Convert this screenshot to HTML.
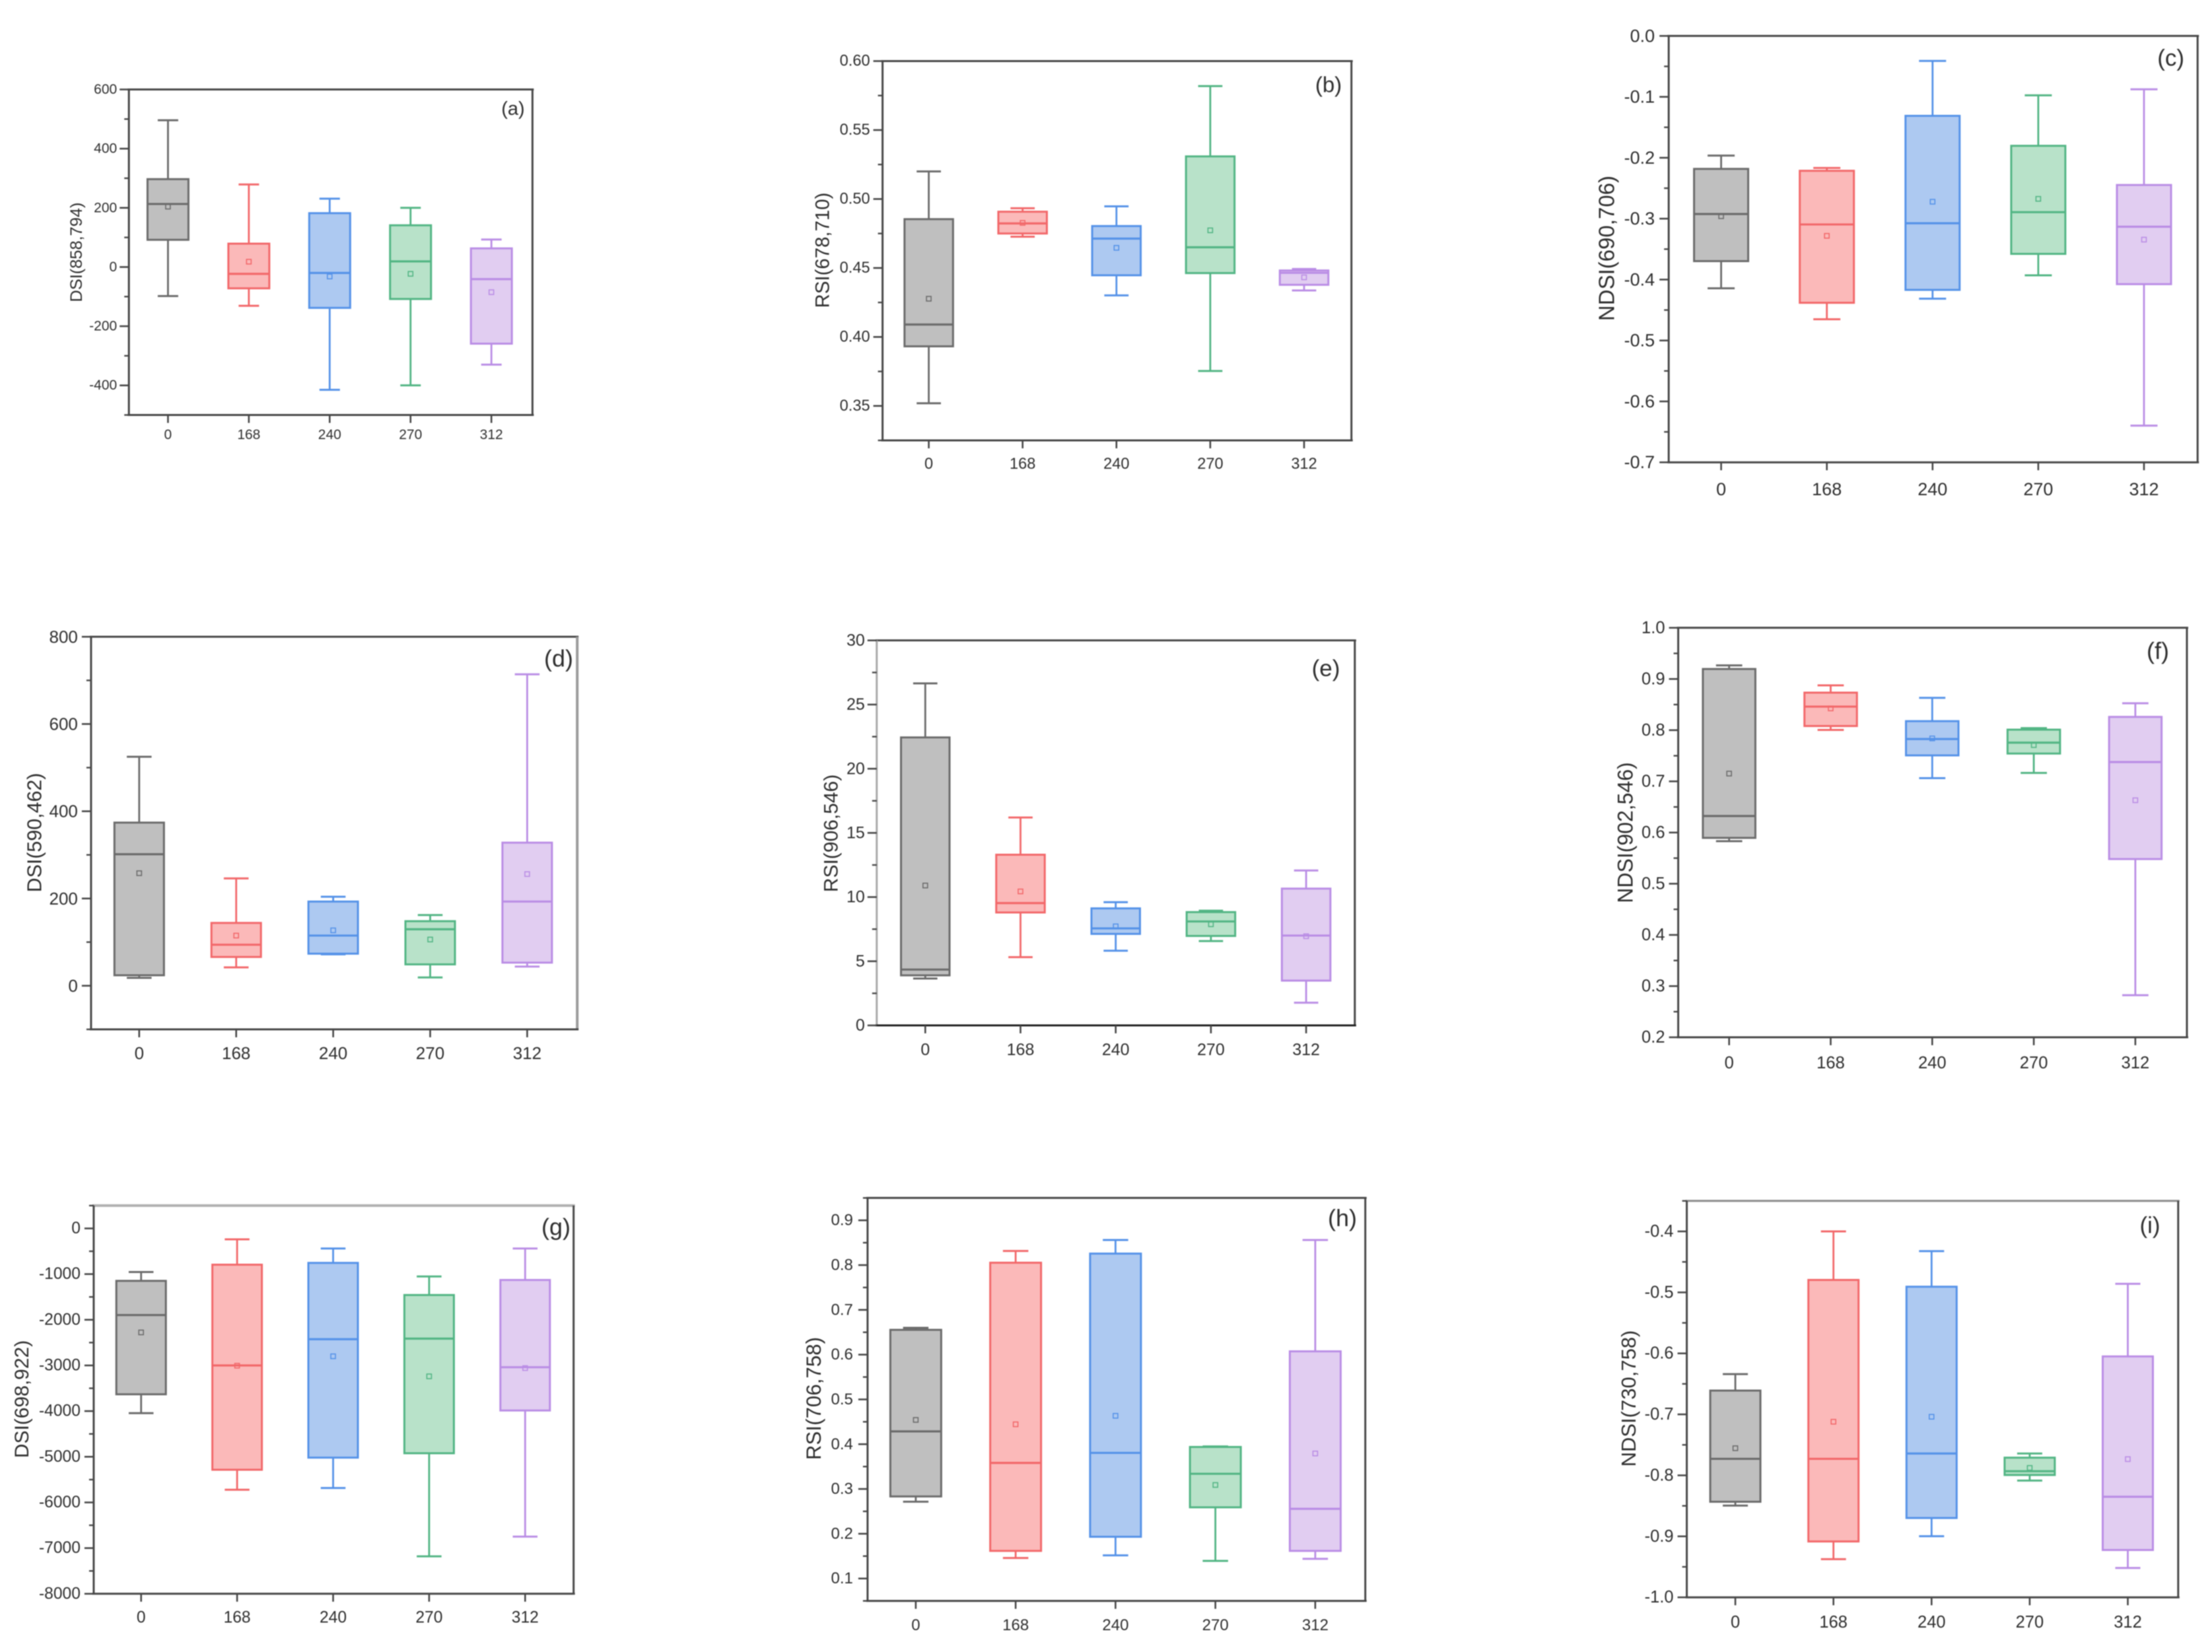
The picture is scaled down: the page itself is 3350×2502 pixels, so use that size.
<!DOCTYPE html>
<html lang="en">
<head>
<meta charset="utf-8">
<title>Box plots of spectral indices</title>
<style>
  html, body { margin: 0; padding: 0; background: #fff; }
  #chart-grid { display: block; width: 3350px; height: 2502px; filter: blur(0.8px); }
  text { font-family: "Liberation Sans", sans-serif; fill: #2e2e2e; }
</style>
</head>
<body>
<svg id="chart-grid" xmlns="http://www.w3.org/2000/svg" width="3350" height="2502" viewBox="0 0 3350 2502"></svg>
<script>
// Shared categories
const categories = ['0', '168', '240', '270', '312'];

// (a) DSI(858,794)
const aHigh = [496, 279, 231, 200, 93];
const aQ3 = [297, 79, 182, 141, 63];
const aMedian = [213, -23, -20, 19, -41];
const aMean = [204, 18, -32, -23, -85];
const aQ1 = [92, -72, -138, -108, -259];
const aLow = [-98, -131, -415, -400, -330];
const aTicks = [600, 400, 200, 0, -200, -400];
const aTickLabels = ['600', '400', '200', '0', '-200', '-400'];
const aMinorTicks = [500, 300, 100, -100, -300, -500];
const aDomain = [-500, 600];

// (b) RSI(678,710)
const bHigh = [0.52, 0.4933, 0.4947, 0.5819, 0.4493];
const bQ3 = [0.4854, 0.4908, 0.4804, 0.5309, 0.4482];
const bMedian = [0.409, 0.4823, 0.4713, 0.465, 0.4465];
const bMean = [0.4277, 0.4827, 0.4646, 0.4773, 0.4432];
const bQ1 = [0.3932, 0.475, 0.4447, 0.4463, 0.4378];
const bLow = [0.3519, 0.4727, 0.4301, 0.3753, 0.4337];
const bTicks = [0.6, 0.55, 0.5, 0.45, 0.4, 0.35];
const bTickLabels = ['0.60', '0.55', '0.50', '0.45', '0.40', '0.35'];
const bMinorTicks = [0.575, 0.525, 0.475, 0.425, 0.375, 0.325];
const bDomain = [0.325, 0.6];

// (c) NDSI(690,706)
const cHigh = [-0.1965, -0.2167, -0.041, -0.0975, -0.0876];
const cQ3 = [-0.2183, -0.2214, -0.1312, -0.1804, -0.2447];
const cMedian = [-0.2924, -0.3095, -0.3075, -0.2893, -0.3132];
const cMean = [-0.296, -0.3282, -0.2722, -0.2675, -0.3344];
const cQ1 = [-0.3697, -0.4381, -0.4169, -0.3578, -0.4075];
const cLow = [-0.4143, -0.4651, -0.4314, -0.393, -0.6398];
const cTicks = [0, -0.1, -0.2, -0.3, -0.4, -0.5, -0.6, -0.7];
const cTickLabels = ['0.0', '-0.1', '-0.2', '-0.3', '-0.4', '-0.5', '-0.6', '-0.7'];
const cMinorTicks = [-0.05, -0.15, -0.25, -0.35, -0.45, -0.55, -0.65];
const cDomain = [-0.7, 0];

// (d) DSI(590,462)
const dHigh = [525, 246, 204, 162, 714];
const dQ3 = [374, 144, 193, 148, 328];
const dMedian = [301.5, 94, 115, 129.5, 193];
const dMean = [258, 115, 127, 106, 256];
const dQ1 = [24, 66, 73.5, 49, 53];
const dLow = [18, 42, 72, 19, 44];
const dTicks = [800, 600, 400, 200, 0];
const dTickLabels = ['800', '600', '400', '200', '0'];
const dMinorTicks = [700, 500, 300, 100, -100];
const dDomain = [-100, 800];

// (e) RSI(906,546)
const eHigh = [26.65, 16.2, 9.6, 8.94, 12.07];
const eQ3 = [22.44, 13.3, 9.12, 8.83, 10.66];
const eMedian = [4.35, 9.53, 7.56, 8.1, 7];
const eMean = [10.9, 10.44, 7.72, 7.88, 6.95];
const eQ1 = [3.9, 8.8, 7.13, 6.97, 3.49];
const eLow = [3.65, 5.32, 5.82, 6.57, 1.77];
const eTicks = [30, 25, 20, 15, 10, 5, 0];
const eTickLabels = ['30', '25', '20', '15', '10', '5', '0'];
const eMinorTicks = [27.5, 22.5, 17.5, 12.5, 7.5, 2.5];
const eDomain = [0, 30];

// (f) NDSI(902,546)
const fHigh = [0.9266, 0.8875, 0.8632, 0.804, 0.8526];
const fQ3 = [0.9195, 0.8733, 0.8176, 0.801, 0.8259];
const fMedian = [0.6323, 0.846, 0.7827, 0.7756, 0.7377];
const fMean = [0.7152, 0.8425, 0.7839, 0.7708, 0.6631];
const fQ1 = [0.5896, 0.8081, 0.7507, 0.7543, 0.5482];
const fLow = [0.5831, 0.8004, 0.7063, 0.7164, 0.2823];
const fTicks = [1, 0.9, 0.8, 0.7, 0.6, 0.5, 0.4, 0.3, 0.2];
const fTickLabels = ['1.0', '0.9', '0.8', '0.7', '0.6', '0.5', '0.4', '0.3', '0.2'];
const fMinorTicks = [0.95, 0.85, 0.75, 0.65, 0.55, 0.45, 0.35, 0.25];
const fDomain = [0.2, 1];

// (g) DSI(698,922)
const gHigh = [-955, -239, -439, -1052, -439];
const gQ3 = [-1148, -794, -755, -1458, -1129];
const gMedian = [-1897, -3000, -2426, -2413, -3039];
const gMean = [-2277, -3006, -2800, -3239, -3058];
const gQ1 = [-3632, -5284, -5019, -4923, -3987];
const gLow = [-4045, -5723, -5684, -7181, -6748];
const gTicks = [0, -1000, -2000, -3000, -4000, -5000, -6000, -7000, -8000];
const gTickLabels = ['0', '-1000', '-2000', '-3000', '-4000', '-5000', '-6000', '-7000', '-8000'];
const gMinorTicks = [500, -500, -1500, -2500, -3500, -4500, -5500, -6500, -7500];
const gDomain = [-8000, 500];

// (h) RSI(706,758)
const hHigh = [0.66, 0.8316, 0.856, 0.395, 0.856];
const hQ3 = [0.6554, 0.8053, 0.8257, 0.3938, 0.6074];
const hMedian = [0.4286, 0.3582, 0.3806, 0.3339, 0.2557];
const hMean = [0.4542, 0.4444, 0.4634, 0.3089, 0.3793];
const hQ1 = [0.2833, 0.1617, 0.1932, 0.259, 0.1617];
const hLow = [0.2715, 0.1459, 0.1518, 0.1393, 0.1439];
const hTicks = [0.9, 0.8, 0.7, 0.6, 0.5, 0.4, 0.3, 0.2, 0.1];
const hTickLabels = ['0.9', '0.8', '0.7', '0.6', '0.5', '0.4', '0.3', '0.2', '0.1'];
const hMinorTicks = [0.95, 0.85, 0.75, 0.65, 0.55, 0.45, 0.35, 0.25, 0.15, 0.05];
const hDomain = [0.05, 0.95];

// (i) NDSI(730,758)
const iHigh = [-0.634, -0.4, -0.4323, -0.7642, -0.4859];
const iQ3 = [-0.661, -0.4796, -0.4907, -0.771, -0.605];
const iMedian = [-0.7729, -0.7729, -0.7642, -0.7932, -0.8351];
const iMean = [-0.7555, -0.7121, -0.7039, -0.7878, -0.7734];
const iQ1 = [-0.8433, -0.9084, -0.8699, -0.7994, -0.9224];
const iLow = [-0.8496, -0.9374, -0.8998, -0.8086, -0.9519];
const iTicks = [-0.4, -0.5, -0.6, -0.7, -0.8, -0.9, -1];
const iTickLabels = ['-0.4', '-0.5', '-0.6', '-0.7', '-0.8', '-0.9', '-1.0'];
const iMinorTicks = [-0.35, -0.45, -0.55, -0.65, -0.75, -0.85, -0.95];
const iDomain = [-1, -0.35];

// Series appearance, one per category
const fills = ['#bfbfbf', '#fbb9b9', '#adc9f1', '#b8e2c9', '#e1cdf1'];
const strokes = ['#6b6b6b', '#f2686a', '#5592e8', '#52b584', '#ba8de5'];

// Page layout for each panel
const panels = [
  { id: 'a', title: 'DSI(858,794)', high: aHigh, q3: aQ3, median: aMedian, mean: aMean, q1: aQ1, low: aLow, ticks: aTicks, tickLabels: aTickLabels, minor: aMinorTicks, domain: aDomain,
    left: 195.2, right: 806.4, top: 135.5, bottom: 628.5, x0: 254.4, step: 122.45, boxW: 62, tickFont: 21, labelGap: 18, xLabelDy: 30,
    titleX: 116, titleY: 382, titleFont: 25.4, tagX: 777, tagY: 165, tagFont: 29 },
  { id: 'b', title: 'RSI(678,710)', high: bHigh, q3: bQ3, median: bMedian, mean: bMean, q1: bQ1, low: bLow, ticks: bTicks, tickLabels: bTickLabels, minor: bMinorTicks, domain: bDomain,
    left: 1336.6, right: 2046.7, top: 92.5, bottom: 667, x0: 1406.6, step: 142.1, boxW: 73.5, tickFont: 23.6, labelGap: 19, xLabelDy: 36,
    titleX: 1246, titleY: 379, titleFont: 29.4, tagX: 2012, tagY: 128, tagFont: 33 },
  { id: 'c', title: 'NDSI(690,706)', high: cHigh, q3: cQ3, median: cMedian, mean: cMean, q1: cQ1, low: cLow, ticks: cTicks, tickLabels: cTickLabels, minor: cMinorTicks, domain: cDomain,
    left: 2527.2, right: 3328.2, top: 54.4, bottom: 700.2, x0: 2606.6, step: 160.1, boxW: 82, tickFont: 27, labelGap: 21, xLabelDy: 41,
    titleX: 2433, titleY: 376, titleFont: 33, tagX: 3287.6, tagY: 88, tagFont: 35 },
  { id: 'd', title: 'DSI(590,462)', high: dHigh, q3: dQ3, median: dMedian, mean: dMean, q1: dQ1, low: dLow, ticks: dTicks, tickLabels: dTickLabels, minor: dMinorTicks, domain: dDomain,
    left: 137.9, right: 874.2, top: 964.4, bottom: 1559, x0: 210.8, step: 146.9, boxW: 75, tickFont: 26, labelGap: 20, xLabelDy: 36,
    titleX: 52.6, titleY: 1261, titleFont: 30.4, tagX: 846, tagY: 997, tagFont: 36, rightColor: '#9a9a9a', rightWidth: 4 },
  { id: 'e', title: 'RSI(906,546)', high: eHigh, q3: eQ3, median: eMedian, mean: eMean, q1: eQ1, low: eLow, ticks: eTicks, tickLabels: eTickLabels, minor: eMinorTicks, domain: eDomain,
    left: 1327.8, right: 2051.8, top: 969.9, bottom: 1553, x0: 1401.3, step: 144.2, boxW: 73.5, tickFont: 25, labelGap: 18, xLabelDy: 37,
    titleX: 1259, titleY: 1262, titleFont: 30, tagX: 2008, tagY: 1012.6, tagFont: 35, leftColor: '#a8a8a8', bottomColor: '#222' },
  { id: 'f', title: 'NDSI(902,546)', high: fHigh, q3: fQ3, median: fMedian, mean: fMean, q1: fQ1, low: fLow, ticks: fTicks, tickLabels: fTickLabels, minor: fMinorTicks, domain: fDomain,
    left: 2541.6, right: 3312, top: 950.8, bottom: 1571, x0: 2618.7, step: 153.8, boxW: 79.5, tickFont: 25.6, labelGap: 20, xLabelDy: 39,
    titleX: 2461.5, titleY: 1261, titleFont: 32, tagX: 3268, tagY: 985.6, tagFont: 36 },
  { id: 'g', title: 'DSI(698,922)', high: gHigh, q3: gQ3, median: gMedian, mean: gMean, q1: gQ1, low: gLow, ticks: gTicks, tickLabels: gTickLabels, minor: gMinorTicks, domain: gDomain,
    left: 141.9, right: 868.7, top: 1825.9, bottom: 2413.8, x0: 213.7, step: 145.4, boxW: 75, tickFont: 24.6, labelGap: 20, xLabelDy: 36,
    titleX: 33.6, titleY: 2119, titleFont: 30, tagX: 842, tagY: 1858, tagFont: 36, topColor: '#b0b0b0', topWidth: 4 },
  { id: 'h', title: 'RSI(706,758)', high: hHigh, q3: hQ3, median: hMedian, mean: hMean, q1: hQ1, low: hLow, ticks: hTicks, tickLabels: hTickLabels, minor: hMinorTicks, domain: hDomain,
    left: 1313.9, right: 2067.7, top: 1814.3, bottom: 2424.6, x0: 1386.9, step: 151.25, boxW: 77, tickFont: 24, labelGap: 22, xLabelDy: 37,
    titleX: 1232.5, titleY: 2118, titleFont: 31.3, tagX: 2033, tagY: 1844.6, tagFont: 36 },
  { id: 'i', title: 'NDSI(730,758)', high: iHigh, q3: iQ3, median: iMedian, mean: iMean, q1: iQ1, low: iLow, ticks: iTicks, tickLabels: iTickLabels, minor: iMinorTicks, domain: iDomain,
    left: 2554.6, right: 3298.8, top: 1818.8, bottom: 2419.2, x0: 2628.1, step: 148.6, boxW: 76, tickFont: 25.5, labelGap: 20, xLabelDy: 38,
    titleX: 2466.5, titleY: 2118, titleFont: 31, tagX: 3256, tagY: 1856, tagFont: 35, topColor: '#8a8a8a' }
];

const SVG_NS = 'http://www.w3.org/2000/svg';
const root = document.getElementById('chart-grid');
const AXIS = '#474747';

function mk(tag, parent, attrs, text) {
  const node = document.createElementNS(SVG_NS, tag);
  for (const key in attrs) node.setAttribute(key, attrs[key]);
  if (text !== undefined) node.textContent = text;
  parent.appendChild(node);
  return node;
}

function drawPanel(p) {
  const yScale = v => p.bottom - (v - p.domain[0]) / (p.domain[1] - p.domain[0]) * (p.bottom - p.top);
  const xScale = i => p.x0 + i * p.step;

  const g = mk('g', root, {});
  
  

  // Boxes and whiskers
  categories.forEach((cat, i) => {
    const x = xScale(i);
    const col = strokes[i];
    const box = mk('g', g, {});
    
    

    const whisker = mk('line', box, { x1: x, x2: x, y1: yScale(p.high[i]), y2: yScale(p.low[i]), stroke: col, 'stroke-width': 2.8 });
    
    

    const capHigh = mk('line', box, { x1: x - p.boxW / 4, x2: x + p.boxW / 4, y1: yScale(p.high[i]), y2: yScale(p.high[i]), stroke: col, 'stroke-width': 3 });
    
    

    const capLow = mk('line', box, { x1: x - p.boxW / 4, x2: x + p.boxW / 4, y1: yScale(p.low[i]), y2: yScale(p.low[i]), stroke: col, 'stroke-width': 3 });
    
    

    const rect = mk('rect', box, { x: x - p.boxW / 2, y: yScale(p.q3[i]), width: p.boxW, height: yScale(p.q1[i]) - yScale(p.q3[i]), fill: fills[i], stroke: col, 'stroke-width': 3 });
    
    

    const med = mk('line', box, { x1: x - p.boxW / 2, x2: x + p.boxW / 2, y1: yScale(p.median[i]), y2: yScale(p.median[i]), stroke: col, 'stroke-width': 3.2 });
    
    

    const mean = mk('rect', box, { x: x - 3.5, y: yScale(p.mean[i]) - 3.5, width: 7, height: 7, fill: 'none', stroke: col, 'stroke-width': 1.6 });
    
    
  });

  // Frame
  const frame = mk('g', g, {});
  
  

  const top = mk('line', frame, { x1: p.left - 2, x2: p.right + 2, y1: p.top, y2: p.top, stroke: p.topColor || AXIS, 'stroke-width': p.topWidth || 3 });
  
  

  const right = mk('line', frame, { x1: p.right, x2: p.right, y1: p.top, y2: p.bottom, stroke: p.rightColor || AXIS, 'stroke-width': p.rightWidth || 3 });
  
  

  const left = mk('line', frame, { x1: p.left, x2: p.left, y1: p.top, y2: p.bottom, stroke: p.leftColor || AXIS, 'stroke-width': 3 });
  
  

  const bottom = mk('line', frame, { x1: p.left - 2, x2: p.right + 2, y1: p.bottom, y2: p.bottom, stroke: p.bottomColor || AXIS, 'stroke-width': 3 });
  
  

  // Y ticks and labels
  p.ticks.forEach((v, i) => {
    const y = yScale(v);
    const tick = mk('line', g, { x1: p.left - 14, x2: p.left, y1: y, y2: y, stroke: AXIS, 'stroke-width': 2.6 });
    
    

    const label = mk('text', g, { x: p.left - p.labelGap, y: y, 'text-anchor': 'end', 'dominant-baseline': 'central', 'font-size': p.tickFont }, p.tickLabels[i]);
    
    
  });
  p.minor.forEach(v => {
    const y = yScale(v);
    const tick = mk('line', g, { x1: p.left - 7, x2: p.left, y1: y, y2: y, stroke: AXIS, 'stroke-width': 2.4 });
    
    
  });

  // X ticks and labels
  categories.forEach((cat, i) => {
    const x = xScale(i);
    const tick = mk('line', g, { x1: x, x2: x, y1: p.bottom, y2: p.bottom + 12, stroke: AXIS, 'stroke-width': 2.6 });
    
    

    const label = mk('text', g, { x: x, y: p.bottom + p.xLabelDy, 'text-anchor': 'middle', 'dominant-baseline': 'central', 'font-size': p.tickFont }, cat);
    
    
  });

  // Axis title
  const title = mk('text', g, { x: p.titleX, y: p.titleY, 'text-anchor': 'middle', 'dominant-baseline': 'central', 'font-size': p.titleFont, transform: 'rotate(-90 ' + p.titleX + ' ' + p.titleY + ')' }, p.title);
  
  

  // Panel tag
  const tag = mk('text', g, { x: p.tagX, y: p.tagY, 'text-anchor': 'middle', 'dominant-baseline': 'central', 'font-size': p.tagFont }, '(' + p.id + ')');
  
  
}

panels.forEach(drawPanel);
</script>
</body>
</html>
